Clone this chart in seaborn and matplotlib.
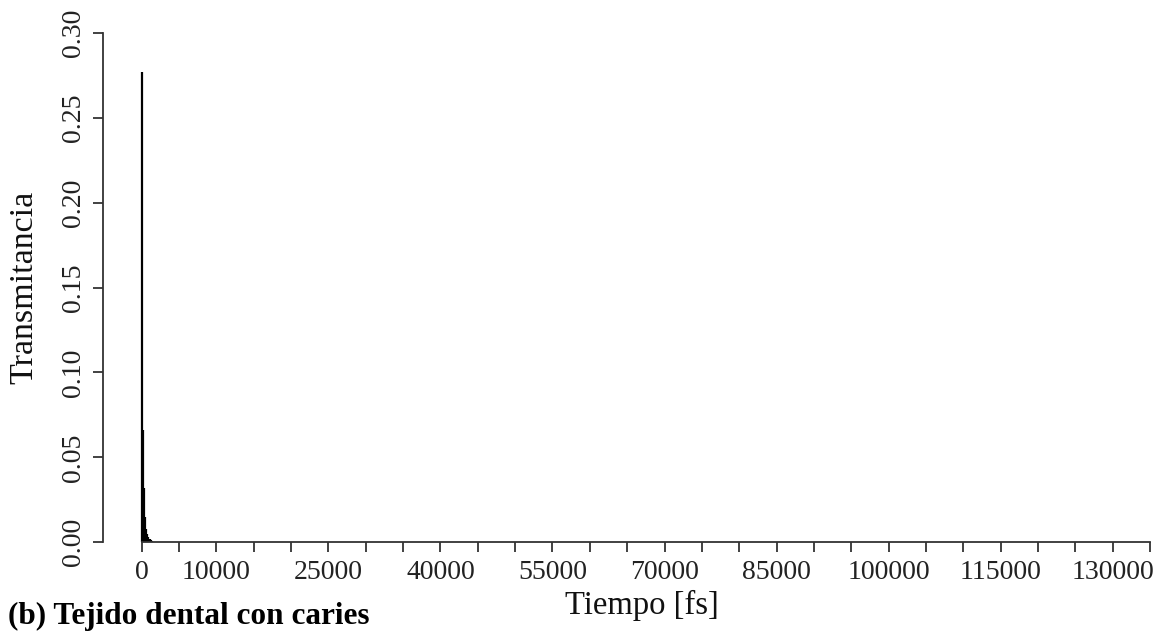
import numpy as np
import pandas as pd
import matplotlib
matplotlib.use("Agg")
import matplotlib.pyplot as plt
import seaborn as sns

# Transmittance time series (fs) for carious dental tissue
tiempo = [0, 150, 300, 450, 600, 750, 900, 1050, 1200, 1350]
transmitancia = [0.277, 0.066, 0.032, 0.015, 0.008, 0.005, 0.003, 0.002, 0.0012, 0.0008]

x_ticks = list(range(0, 135001, 5000))
x_labeled = [0, 10000, 25000, 40000, 55000, 70000, 85000, 100000, 115000, 130000]
y_ticks = [0.00, 0.05, 0.10, 0.15, 0.20, 0.25, 0.30]

sns.set_theme(style="ticks")
plt.rcParams["font.family"] = ["Liberation Serif", "DejaVu Serif"]

df = pd.DataFrame({"Tiempo": tiempo, "Transmitancia": transmitancia})

W, H = 1162, 637
fig = plt.figure(figsize=(W / 100, H / 100), dpi=100)
# plot region (pixel based)
left_px, right_px, top_px, bottom_px = 102.7, 1182.0, 32.7, 542.3
ax = fig.add_axes([left_px / W, (H - bottom_px) / H,
                   (right_px - left_px) / W, (bottom_px - top_px) / H])

# vertical "histogram-like" lines from the baseline
ax.vlines(df["Tiempo"], 0, df["Transmitancia"], color="black", linewidth=1.6)

ppx = (1150.0 - 141.7) / 135000.0
ax.set_xlim((left_px - 141.7) / ppx, (right_px - 141.7) / ppx)
ax.set_ylim(0, 0.30)

ax.set_xticks(x_ticks)
ax.set_xticklabels([str(t) if t in x_labeled else "" for t in x_ticks])
ax.set_yticks(y_ticks)
ax.set_yticklabels([f"{v:.2f}" for v in y_ticks])

sns.despine(ax=ax)
ax.spines["bottom"].set_bounds(0, 135000)
ax.spines["left"].set_bounds(0, 0.30)
for s in ("bottom", "left"):
    ax.spines[s].set_color("#333333")
    ax.spines[s].set_linewidth(1.3)
    ax.spines[s].set_position(("outward", 0))

ax.tick_params(axis="both", direction="out", length=7, width=1.3,
               color="#333333", labelsize=20, labelcolor="#222222")
ax.tick_params(axis="x", pad=6)
ax.tick_params(axis="y", pad=5, labelrotation=90)
for lab in ax.get_yticklabels():
    lab.set_verticalalignment("center")
    lab.set_horizontalalignment("right")

ax.set_xlabel("Tiempo [fs]", fontsize=23.5, color="#111111", labelpad=3)
ax.set_ylabel("Transmitancia", fontsize=24.5, color="#111111")
ax.yaxis.set_label_coords((39 - left_px) / (right_px - left_px), 0.5)

fig.text(8 / W, (H - 624) / H, "(b) Tejido dental con caries",
         fontsize=22.5, fontweight="bold", color="black",
         ha="left", va="baseline")

fig.savefig("out.png", dpi=100, facecolor="white")
